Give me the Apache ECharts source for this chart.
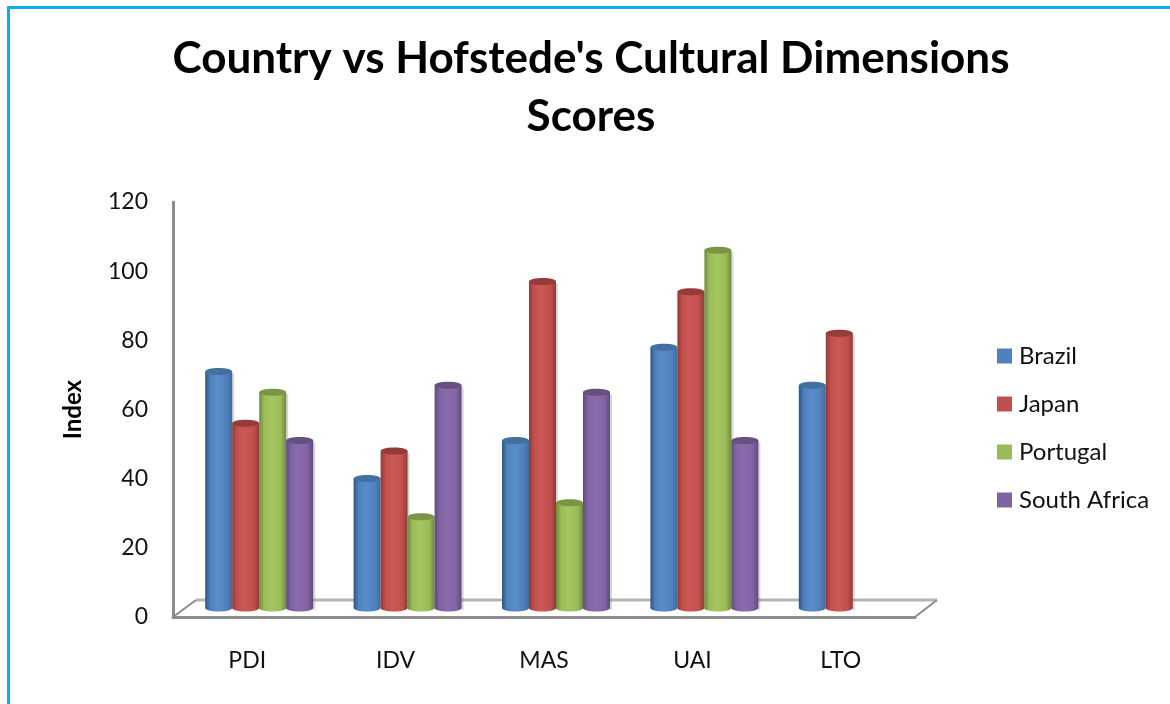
<!DOCTYPE html>
<html>
<head>
<meta charset="utf-8">
<style>html,body{margin:0;padding:0;background:#fff}#c{width:1170px;height:704px}</style>
<script src="https://cdn.jsdelivr.net/npm/echarts@6/dist/echarts.min.js"></script>
</head>
<body>
<div id="c"></div>
<script>
const categories = ['PDI', 'IDV', 'MAS', 'UAI', 'LTO'];
const brazil = [69, 38, 49, 76, 65];
const japan = [54, 46, 95, 92, 80];
const portugal = [63, 27, 31, 104, null];
const southAfrica = [49, 65, 63, 49, null];
const seriesNames = ['Brazil', 'Japan', 'Portugal', 'South Africa'];
const yTicks = { min: 0, max: 120, interval: 20 };

const palettes = [
  { base: '#4f81bd', edgeL: '#2f5480', mid: '#5a8ccb', edgeR: '#3f6a9c', top: '#44709f' },
  { base: '#c0504d', edgeL: '#8f3a38', mid: '#cd5856', edgeR: '#8f3a38', top: '#953c3a' },
  { base: '#9bbb59', edgeL: '#6d8a3c', mid: '#a6c65f', edgeR: '#6d8a3c', top: '#7a9645' },
  { base: '#8064a2', edgeL: '#5f4a7c', mid: '#8a6bae', edgeR: '#5f4a7c', top: '#65507f' }
];
const BAR_W = 27, DX = 12, DY = -7, RY = 3.5;

function cylinder(seriesIndex) {
  const p = palettes[seriesIndex];
  const grad = { type: 'linear', x: 0, y: 0, x2: 1, y2: 0, colorStops: [
    { offset: 0, color: p.edgeL }, { offset: 0.18, color: p.base }, { offset: 0.45, color: p.mid },
    { offset: 0.8, color: p.base }, { offset: 1, color: p.edgeR } ] };
  return function (params, api) {
    const v = api.value(1);
    if (v == null || isNaN(v)) return;
    const top = api.coord([api.value(0), v]);
    const bot = api.coord([api.value(0), 0]);
    const cx = top[0] + DX + (seriesIndex - 1.5) * BAR_W;
    const x = cx - BAR_W / 2, yT = top[1] + DY, yB = bot[1] + DY - 2;
    return { type: 'group', children: [
      { type: 'rect', shape: { x: x + BAR_W, y: yT + 2, width: 2, height: yB - yT }, style: { fill: 'rgba(120,120,120,0.3)' } },
      { type: 'ellipse', shape: { cx: cx, cy: yB, rx: BAR_W / 2, ry: RY }, style: { fill: grad } },
      { type: 'rect', shape: { x: x, y: yT, width: BAR_W, height: yB - yT }, style: { fill: grad } },
      { type: 'ellipse', shape: { cx: cx, cy: yT, rx: BAR_W / 2, ry: RY }, style: { fill: p.top } }
    ] };
  };
}

function floor(params, api) {
  if (params.dataIndex !== 0) return;
  const o = api.coord([0, 0]), s = api.size([1, 0]);
  const l = o[0] - s[0] / 2, r = l + s[0] * categories.length, y = o[1];
  const st = { stroke: '#b5b5b5', lineWidth: 3, fill: null };
  const st2 = { stroke: '#8c8c8c', lineWidth: 2, fill: null };
  return { type: 'group', children: [
    { type: 'line', shape: { x1: l + 23, y1: y - 17, x2: r + 22, y2: y - 17 }, style: st },
    { type: 'line', shape: { x1: l, y1: y, x2: l + 23, y2: y - 17 }, style: st2 },
    { type: 'line', shape: { x1: r, y1: y, x2: r + 22, y2: y - 17 }, style: st2 }
  ] };
}

const rows = [brazil, japan, portugal, southAfrica];
const series = [{
  type: 'custom', silent: true, renderItem: floor, data: [[0, 0]],
  encode: { x: 0, y: 1 }, legendHoverLink: false, z: 1
}].concat(rows.map((vals, i) => ({
  name: seriesNames[i], type: 'custom', renderItem: cylinder(i),
  itemStyle: { color: palettes[i].base },
  data: vals.map((v, k) => [k, v]), encode: { x: 0, y: 1 }, z: 2 + i
})));

const font = 'Lato';
const chart = echarts.init(document.getElementById('c'), null, { renderer: 'canvas' });
chart.setOption({
  animation: false,
  backgroundColor: '#fff',
  title: {
    text: "Country vs Hofstede's Cultural Dimensions\nScores",
    left: 591, top: 30, textAlign: 'center', padding: 0,
    textStyle: { fontFamily: font, fontWeight: 'bold', fontSize: 44, lineHeight: 58, color: '#000' }
  },
  legend: {
    data: seriesNames, orient: 'vertical', left: 992, top: 339,
    icon: 'rect', itemWidth: 15, itemHeight: 15, itemGap: 24, selectedMode: false,
    textStyle: { fontFamily: font, fontSize: 24, color: '#111', padding: [0, 0, 0, 2] }
  },
  grid: { left: 173, top: 202, width: 742, height: 415, containLabel: false },
  xAxis: {
    type: 'category', data: categories,
    axisLine: { show: true, lineStyle: { color: '#8c8c8c', width: 3 } },
    axisTick: { show: false }, splitLine: { show: false },
    axisLabel: { margin: 32, fontFamily: font, fontSize: 23, color: '#111' }
  },
  yAxis: {
    type: 'value', min: yTicks.min, max: yTicks.max, interval: yTicks.interval,
    name: 'Index', nameLocation: 'middle', nameGap: 88, nameRotate: 90,
    nameTextStyle: { fontFamily: font, fontWeight: 'bold', fontSize: 24, color: '#000' },
    axisLine: { show: true, lineStyle: { color: '#8c8c8c', width: 3 } },
    axisTick: { show: false }, splitLine: { show: false },
    axisLabel: { margin: 25, fontFamily: font, fontSize: 23, color: '#111', padding: [2, 0, 0, 0] }
  },
  graphic: [{
    type: 'polyline', silent: true, z: 100,
    shape: { points: [[8.5, 704], [8.5, 7.5], [1170, 7.5]] },
    style: { stroke: '#00b0f0', lineWidth: 3, fill: null }
  }],
  series: series
});
</script>
</body>
</html>
